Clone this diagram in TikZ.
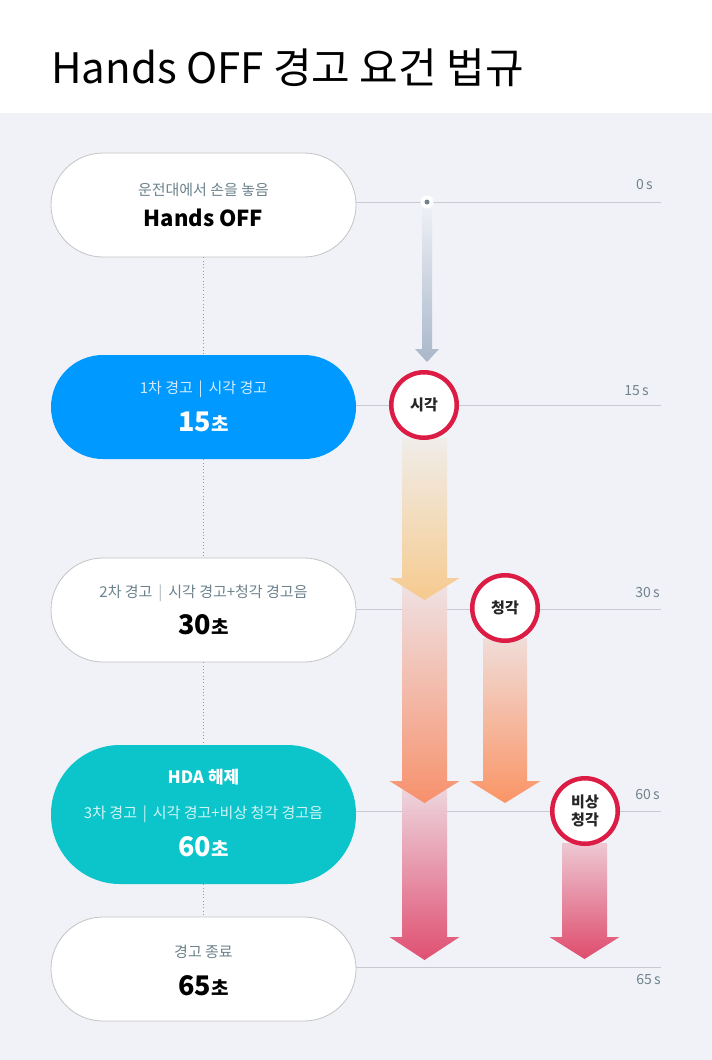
\documentclass[tikz,border=0pt]{standalone}
\usepackage{fontspec}
\setmainfont{Noto Sans CJK KR}
\usetikzlibrary{calc}
\definecolor{bgc}{HTML}{F0F2F7}
\definecolor{tlc}{HTML}{C6CAD2}
\definecolor{subc}{HTML}{6C828C}
\definecolor{labc}{HTML}{6F838D}
\definecolor{bluec}{HTML}{0099FF}
\definecolor{tealc}{HTML}{0CC5CB}
\definecolor{redc}{HTML}{DD1C45}
\definecolor{bordc}{HTML}{C4C4C4}
\definecolor{dotc}{HTML}{6F8391}
\definecolor{yA}{HTML}{F1EDE9}\definecolor{yB}{HTML}{F7C98A}
\definecolor{oA}{HTML}{F0E0E2}\definecolor{oB}{HTML}{F88D66}
\definecolor{pA}{HTML}{F1DCD7}\definecolor{pB}{HTML}{FB905F}
\definecolor{rA}{HTML}{EDD3DC}\definecolor{rB}{HTML}{E0476B}
\definecolor{qA}{HTML}{EDC6D1}\definecolor{qB}{HTML}{DF4467}
\definecolor{gA}{HTML}{EEF0F5}\definecolor{gB}{HTML}{A9B7CA}
\newcommand\grarrow[9]{%
  \shade[top color=#7, bottom color=#8, opacity=#9]
    ({#1-#5},#2) -- ({#1+#5},#2) -- ({#1+#5},#3) -- ({#1+#6},#3) -- (#1,#4)
    -- ({#1-#6},#3) -- ({#1-#5},#3) -- cycle;}
\begin{document}
\begin{tikzpicture}[x=1pt,y=-1pt,
  stad/.style={rounded corners=#1, minimum width=305pt, inner sep=0pt},
  wbox/.style={stad=52pt, draw=bordc, line width=0.8pt, fill=white, minimum height=104pt},
  bbox/.style={stad=52pt, fill=bluec, minimum height=104pt},
  tbox/.style={stad=69pt, fill=tealc, minimum height=139pt},
  sub/.style={font=\fontsize{15}{17}\selectfont, text=subc, inner sep=0pt},
  subw/.style={font=\fontsize{15}{17}\selectfont, text=white, text opacity=0.82, inner sep=0pt},
  val/.style={font=\fontsize{27}{29}\selectfont\bfseries, inner sep=0pt},
  lab/.style={font=\fontsize{14}{16}\selectfont, text=labc, anchor=base east, inner sep=0pt},
  tl/.style={draw=tlc, line width=1pt},
  dotline/.style={draw=gray!80, line width=1pt, dash pattern=on 1pt off 2.3pt},
  ring/.style={circle, draw=redc, line width=4.5pt, fill=white, minimum size=65.5pt, inner sep=0pt,
    font=\fontsize{15}{18}\selectfont\bfseries, align=center, text=black!85}
]
\useasboundingbox (0,0) rectangle (712,1060);
\fill[white] (0,0) rectangle (712,113);
\fill[bgc] (0,113) rectangle (712,1060);

\node[anchor=base west, font=\fontsize{42}{46}\selectfont, inner sep=0pt] (title) at (51,83) {Hands OFF 경고 요건 법규};

% timeline coordinates
\coordinate (l0) at (661,202);
\coordinate (l1) at (661,405);
\coordinate (l2) at (661,609);
\coordinate (l3) at (661,811);
\coordinate (l4) at (661,967);

% nodes
\node[wbox] (n0) at (203.5,205) {};
\node[bbox] (n1) at (203.5,407) {};
\node[wbox] (n2) at (203.5,610) {};
\node[tbox] (n3) at (203.5,814.5) {};
\node[wbox] (n4) at (203.5,969) {};

\draw[tl] (356,202) -- (l0);
\draw[tl] (356,405) -- (l1);
\draw[tl] (356,609) -- (l2);
\draw[tl] (356,811) -- (l3);
\draw[tl] (356,967) -- (l4);

\draw[dotline] (n0.south) -- (n1.north);
\draw[dotline] (n1.south) -- (n2.north);
\draw[dotline] (n2.south) -- (n3.north);
\draw[dotline] (n3.south) -- (n4.north);

% node texts
\node[sub] (n0a) at (203.5,190) {운전대에서 손을 놓음};
\node[val, font=\fontsize{22}{24}\selectfont\bfseries] (n0b) at (203.5,218) {Hands OFF};

\node[subw] (n1a) at (203.5,389) {1차 경고 {\color{white}\,|\,} 시각 경고};
\node[val, text=white] (n1b) at (203.5,422) {15{\fontsize{19}{20}\selectfont 초}};

\node[sub] (n2a) at (203.5,593) {2차 경고 {\color{subc!60}\,|\,} 시각 경고+청각 경고음};
\node[val] (n2b) at (203.5,625) {30{\fontsize{19}{20}\selectfont 초}};

\node[font=\fontsize{17}{19}\selectfont\bfseries, text=white, inner sep=0pt] (n3h) at (203.5,777) {HDA 해제};
\node[subw] (n3a) at (203.5,814) {3차 경고 {\color{white}\,|\,} 시각 경고+비상 청각 경고음};
\node[val, text=white] (n3b) at (203.5,847) {60{\fontsize{19}{20}\selectfont 초}};

\node[sub] (n4a) at (203.5,952) {경고 종료};
\node[val] (n4b) at (203.5,986) {65{\fontsize{19}{20}\selectfont 초}};

% right labels
\node[lab] (t0) at (653,189) {0\,s};
\node[lab] (t1) at (649,395) {15\,s};
\node[lab] (t2) at (660,597) {30\,s};
\node[lab] (t3) at (660,799) {60\,s};
\node[lab] (t4) at (661,984) {65\,s};

% gradient arrows (drawn bottom first)
\grarrow{424.5}{790}{937}{960}{22.5}{35}{rA}{rB}{0.95}
\grarrow{584.5}{843}{937}{959}{22.5}{35}{qA}{qB}{0.95}
\grarrow{424.5}{585}{781}{803}{22.5}{35}{oA}{oB}{0.95}
\grarrow{505}{638}{781}{803}{22}{35.5}{pA}{pB}{0.95}
\grarrow{424.5}{438}{578}{600}{22.5}{35}{yA}{yB}{0.95}
\grarrow{427}{205}{349}{362}{5}{12}{gA}{gB}{1}

% start dot
\node[circle, fill=white, minimum size=13pt, inner sep=0pt] (d0) at (427,202) {};
\node[circle, fill=dotc, minimum size=5pt, inner sep=0pt] (d1) at (d0) {};

% rings
\node[ring] (c1) at (424,405) {시각};
\node[ring] (c2) at (505,608) {청각};
\node[ring] (c3) at (585,811) {비상\\청각};
\end{tikzpicture}
\end{document}
